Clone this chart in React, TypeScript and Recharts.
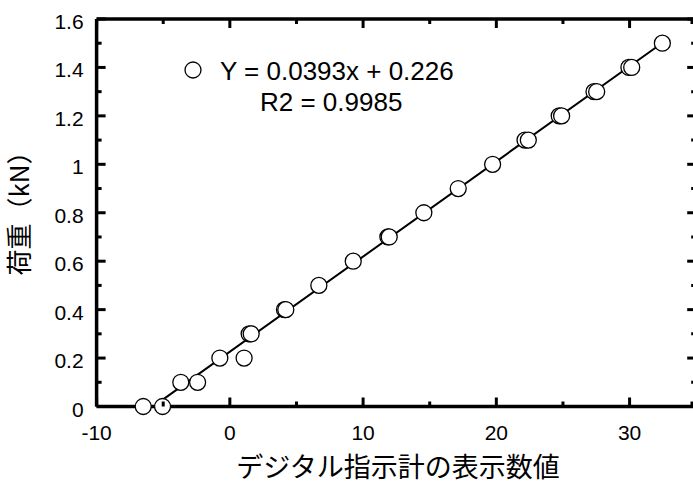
import React from 'react';
import { ScatterChart, Scatter, XAxis, YAxis, ReferenceLine } from 'recharts';

// デジタル指示計の表示数値 (x) and 荷重 kN (y)
const displayValues = [-6.5, -5.05, -3.68, -2.42, -0.75, 1.07, 1.45, 1.6, 4.1, 4.2, 6.68, 9.26, 11.86, 11.96, 14.56, 17.14, 19.72, 22.15, 22.4, 24.72, 24.9, 27.33, 27.53, 29.95, 30.16, 32.46];
const loads = [0, 0, 0.1, 0.1, 0.2, 0.2, 0.3, 0.3, 0.4, 0.4, 0.5, 0.6, 0.7, 0.7, 0.8, 0.9, 1.0, 1.1, 1.1, 1.2, 1.2, 1.3, 1.3, 1.4, 1.4, 1.5];

// regression line end points (Y = 0.0393x + 0.226)
const fitX = [-5.45, 32.5];
const fitY = [0.012, 1.503];

const xDomain = [-10, 35];
const yDomain = [0, 1.6];
const xTicks = [-10, -5, 0, 5, 10, 15, 20, 25, 30, 35];
const yTicks = [0, 0.1, 0.2, 0.3, 0.4, 0.5, 0.6, 0.7, 0.8, 0.9, 1.0, 1.1, 1.2, 1.3, 1.4, 1.5, 1.6];

const legendLine1 = 'Y = 0.0393x + 0.226';
const legendLine2 = 'R2 = 0.9985';
const xLabel = 'デジタル指示計の表示数値';
const yLabel = '荷重（kN）';

const points = displayValues.map((x, i) => ({ x, y: loads[i] }));
const fitLine = fitX.map((x, i) => ({ x, y: fitY[i] }));

const NUM_FONT = '"Liberation Sans", Arial, sans-serif';
const JP_FONT = '"Noto Sans CJK JP", "Liberation Sans", sans-serif';

const isMajorX = (v: number) => Math.round(v) % 10 === 0;
const isMajorY = (v: number) => Math.round(v * 10) % 2 === 0;
const fmtY = (v: number) => String(Number(v.toFixed(1)));

const PLOT_H = 387.5;
const PLOT_W = 599.6;

const BottomTick = (props: any) => {
  const { x, y, payload } = props;
  const major = isMajorX(payload.value);
  const len = major ? 9 : 5;
  return (
    <g>
      <line x1={x} x2={x} y1={y} y2={y - len} stroke="#000" strokeWidth={3} />
      <line x1={x} x2={x} y1={y - PLOT_H} y2={y - PLOT_H + len} stroke="#000" strokeWidth={3} />
      {major && (
        <text x={x} y={y + 33} textAnchor="middle" fontSize={21} fontFamily={NUM_FONT} fill="#000">
          {String(payload.value)}
        </text>
      )}
    </g>
  );
};

const LeftTick = (props: any) => {
  const { x, y, payload } = props;
  const major = isMajorY(payload.value);
  const len = major ? 9 : 5;
  return (
    <g>
      <line x1={x} x2={x + len} y1={y} y2={y} stroke="#000" strokeWidth={3} />
      <line x1={x + PLOT_W} x2={x + PLOT_W - len} y1={y} y2={y} stroke="#000" strokeWidth={3} />
      {major && (
        <text x={x - 13} y={y + 10} textAnchor="end" fontSize={21} fontFamily={NUM_FONT} fill="#000">
          {fmtY(payload.value)}
        </text>
      )}
    </g>
  );
};

const Dot = (props: any) => (
  <circle cx={props.cx} cy={props.cy} r={8} fill="#fff" stroke="#000" strokeWidth={1.3} />
);

const NoDot = () => <g />;

export default function App() {
  return (
    <div style={{ position: 'fixed', left: 0, top: 0, width: 693, height: 487, overflow: 'hidden', background: '#fff' }}>
      <svg
        width={693}
        height={487}
        style={{ position: 'absolute', left: 0, top: 0 }}
      >
        <circle cx={193} cy={70} r={8} fill="#fff" stroke="#000" strokeWidth={1.3} />
        <text x={220} y={79.5} fontSize={26} fontFamily={NUM_FONT} fill="#000">{legendLine1}</text>
        <text x={260} y={110.5} fontSize={26} fontFamily={NUM_FONT} fill="#000">{legendLine2}</text>
        <text x={398} y={477} textAnchor="middle" fontSize={27} fontFamily={JP_FONT} fill="#000">{xLabel}</text>
        <text
          x={29}
          y={207}
          textAnchor="middle"
          fontSize={26}
          fontFamily={JP_FONT}
          fill="#000"
          transform="rotate(-90 29 207)"
        >
          {yLabel}
        </text>
      </svg>
      <ScatterChart width={700} height={487} margin={{ top: 19, right: 3.8, bottom: 0, left: 36.6 }}>
        <XAxis
          xAxisId="b"
          type="number"
          dataKey="x"
          domain={xDomain}
          ticks={xTicks}
          height={80.5}
          tickSize={0}
          tickMargin={0}
          tickLine={false}
          axisLine={false}
          tick={<BottomTick />}
        />
        <YAxis
          yAxisId="l"
          type="number"
          dataKey="y"
          domain={yDomain}
          ticks={yTicks}
          width={60}
          tickSize={0}
          tickMargin={0}
          tickLine={false}
          axisLine={false}
          tick={<LeftTick />}
        />
        <ReferenceLine xAxisId="b" yAxisId="l" x={xDomain[0]} stroke="#000" strokeWidth={3.5} ifOverflow="visible" />
        <ReferenceLine xAxisId="b" yAxisId="l" x={xDomain[1]} stroke="#000" strokeWidth={3.5} ifOverflow="visible" />
        <ReferenceLine xAxisId="b" yAxisId="l" y={yDomain[0]} stroke="#000" strokeWidth={3.5} ifOverflow="visible" />
        <ReferenceLine xAxisId="b" yAxisId="l" y={yDomain[1]} stroke="#000" strokeWidth={3.5} ifOverflow="visible" />
        <Scatter
          data={fitLine}
          xAxisId="b"
          yAxisId="l"
          line={{ stroke: '#000', strokeWidth: 2 }}
          shape={<NoDot />}
          isAnimationActive={false}
        />
        <Scatter data={points} xAxisId="b" yAxisId="l" shape={<Dot />} isAnimationActive={false} />
      </ScatterChart>
    </div>
  );
}
